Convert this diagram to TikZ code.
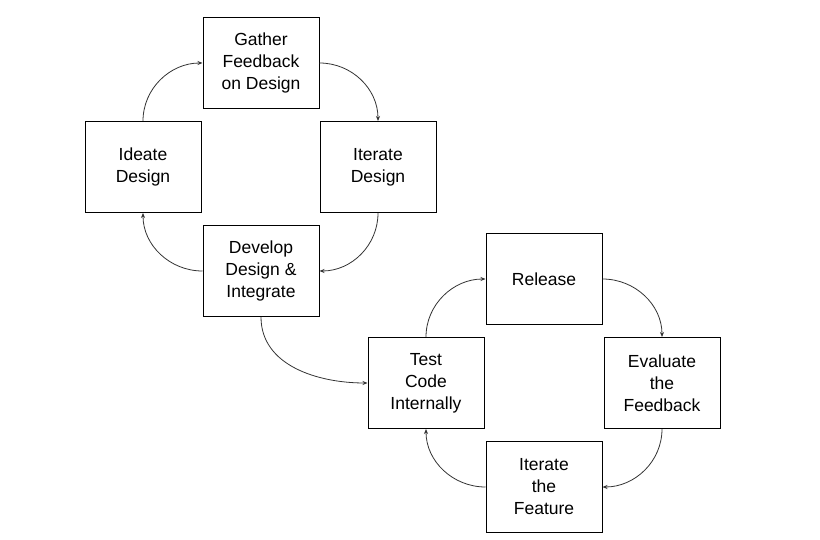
\documentclass[tikz,border=0pt]{standalone}
\usepackage{fontspec}
\setmainfont{Liberation Sans}
\usepackage{tikz}
\usetikzlibrary{arrows.meta}

\begin{document}
\begin{tikzpicture}[x=1pt,y=-1pt,>={Stealth[length=5pt,width=4pt]}]
    \tikzstyle{stage}=[rectangle,draw=black,line width=1pt,minimum width=116pt,minimum height=91pt,inner sep=0pt,align=center,text=black,font=\fontsize{17.5}{22}\selectfont]
    \tikzstyle{flow}=[->,line width=0.8pt,draw=black!80]

    \useasboundingbox (0,0) rectangle (820,540);

    % Design loop
    \node[stage] (D-1) at (261,63) {Gather\\Feedback\\on Design};
    \node[stage] (D-2) at (143,167) {Ideate\\Design};
    \node[stage] (D-3) at (378,167) {Iterate\\Design};
    \node[stage] (D-4) at (261,271) {Develop\\Design \&\\Integrate};

    % Feature loop
    \node[stage] (F-1) at (544,279) {Release};
    \node[stage] (F-2) at (426,383) {Test\\Code\\Internally};
    \node[stage] (F-3) at (662,383) {Evaluate\\the\\Feedback};
    \node[stage] (F-4) at (544,487) {Iterate\\the\\Feature};

    \draw[flow] (D-2.north) to[out=90,in=180] (D-1.west);
    \draw[flow] (D-1.east) to[out=0,in=90] (D-3.north);
    \draw[flow] (D-3.south) to[out=-90,in=0] (D-4.east);
    \draw[flow] (D-4.west) to[out=180,in=-90] (D-2.south);
    \draw[flow] (D-4.south) to[out=-90,in=180] (F-2.west);
    \draw[flow] (F-2.north) to[out=90,in=180] (F-1.west);
    \draw[flow] (F-1.east) to[out=0,in=90] (F-3.north);
    \draw[flow] (F-3.south) to[out=-90,in=0] (F-4.east);
    \draw[flow] (F-4.west) to[out=180,in=-90] (F-2.south);
\end{tikzpicture}
\end{document}
